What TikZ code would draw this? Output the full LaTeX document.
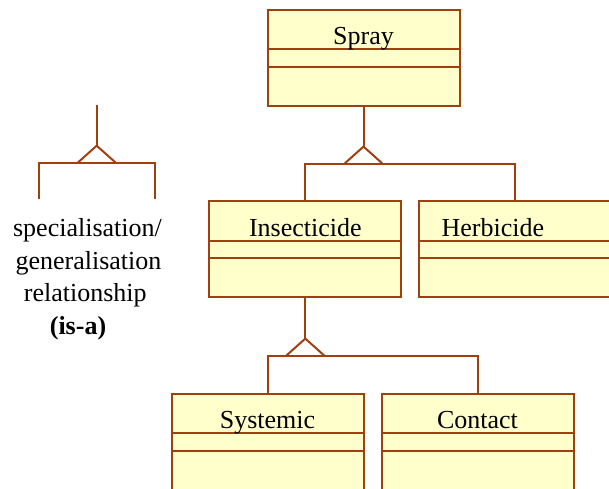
\documentclass[tikz,border=0pt]{standalone}
\usepackage{fontspec}
\setmainfont{Liberation Serif}
\usetikzlibrary{calc}
\definecolor{umlline}{RGB}{160,64,16}
\definecolor{umlfill}{RGB}{255,255,204}
\tikzset{
  cls/.style={draw=umlline, fill=umlfill, line width=2pt, rectangle,
    minimum width=192pt, minimum height=96pt, inner sep=0pt},
  clsname/.style={anchor=base, inner sep=0pt, font=\fontsize{26}{30}\selectfont},
  legtext/.style={anchor=base, inner sep=0pt, font=\fontsize{26}{30}\selectfont},
  conn/.style={draw=umlline, line width=2pt},
}
\newcommand{\compartments}[1]{%
  \draw[conn] ($(#1.north west)+(0,40.5)$) -- ($(#1.north east)+(0,40.5)$);
  \draw[conn] ($(#1.north west)+(0,58)$) -- ($(#1.north east)+(0,58)$);
}
\begin{document}
\begin{tikzpicture}[x=1pt,y=-1pt]
\useasboundingbox (0,0) rectangle (609,488);
% classes
\node[cls] (spray) at (363.5,57.6) {};
\node[cls] (insect) at (305.3,249.2) {};
\node[cls] (herb) at (515.3,249.2) {};
\node[cls] (syst) at (267.5,441.5) {};
\node[cls] (cont) at (477.5,441.5) {};
\compartments{spray}
\compartments{insect}
\compartments{herb}
\compartments{syst}
\compartments{cont}
\node[clsname] (sprayname) at ($(spray.north)+(0,36.3)$) {Spray};
\node[clsname] (insectname) at ($(insect.north)+(0,36.5)$) {Insecticide};
\node[clsname] (herbname) at ($(herb.north)+(-22.5,36.5)$) {Herbicide};
\node[clsname] (systname) at ($(syst.north)+(0,36)$) {Systemic};
\node[clsname] (contname) at ($(cont.north)+(0,36)$) {Contact};
% generalisation spray
\coordinate (a1) at ($(spray.south)+(0,40)$);
\coordinate (b1) at ($(a1)+(0,17)$);
\draw[conn] (spray.south) -- (a1);
\draw[conn] (insect.north) |- (b1) -| (herb.north);
\draw[conn] ($(b1)+(-19,0)$) -- (a1) -- ($(b1)+(19,0)$);
% generalisation insecticide
\coordinate (a2) at ($(insect.south)+(0,40.4)$);
\coordinate (b2) at ($(a2)+(0,17)$);
\draw[conn] (insect.south) -- (a2);
\draw[conn] (syst.north) |- (b2) -| (cont.north);
\draw[conn] ($(b2)+(-19,0)$) -- (a2) -- ($(b2)+(19,0)$);
% legend
\coordinate (ltop) at (96.7,105);
\coordinate (la) at (96.7,145.7);
\coordinate (lb) at (96.7,162.7);
\coordinate (ll) at (39.3,199.3);
\coordinate (lr) at (155.3,199.3);
\draw[conn] (ltop) -- (la);
\draw[conn] (ll) |- (lb) -| (lr);
\draw[conn] ($(lb)+(-19,0)$) -- (la) -- ($(lb)+(19,0)$);
\node[legtext] (l1) at (87.5,236.7) {specialisation/};
\node[legtext] (l2) at (88.5,269) {generalisation};
\node[legtext] (l3) at (85.3,301.5) {relationship};
\node[legtext] (l4) at (78,334) {\textbf{(is-a)}};
\end{tikzpicture}
\end{document}
